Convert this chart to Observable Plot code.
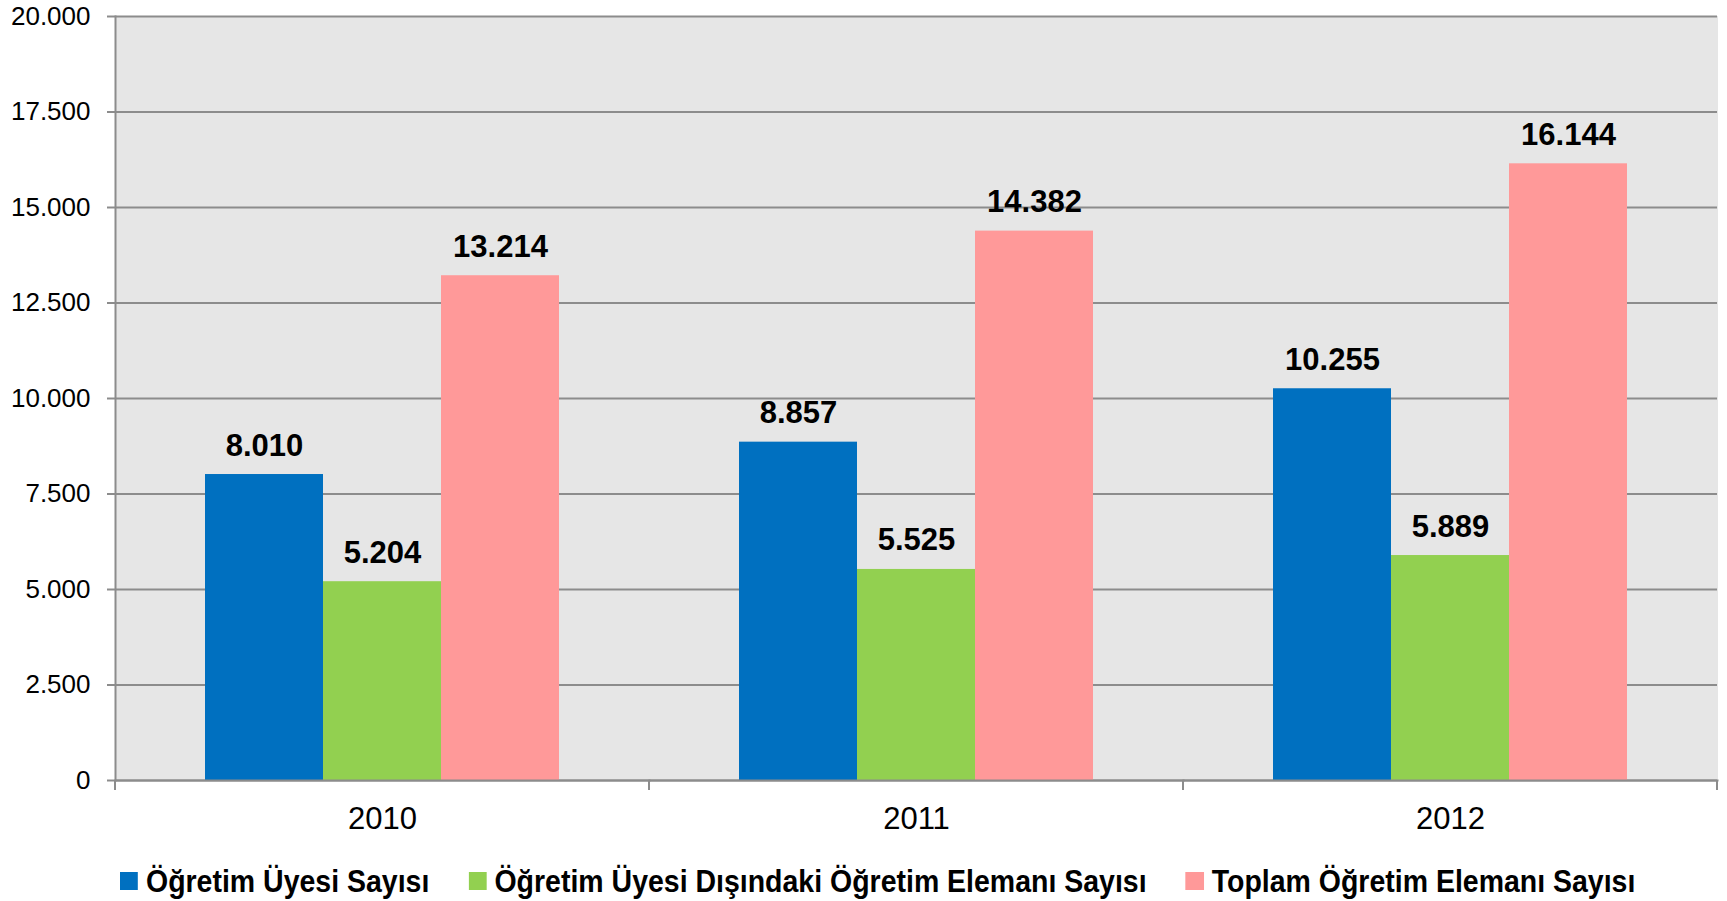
<!DOCTYPE html>
<html><head><meta charset="utf-8">
<script src="https://cdn.jsdelivr.net/npm/d3@7"></script>
<script src="https://cdn.jsdelivr.net/npm/@observablehq/plot@0.6"></script>
<style>
html,body{margin:0;padding:0;background:#fff;}
#wrap{position:relative;width:1727px;height:901px;overflow:hidden;}
#legend{position:absolute;left:120px;top:864px;display:flex;align-items:center;font-family:"Liberation Sans",Arial,sans-serif;font-weight:bold;font-size:32px;line-height:34px;color:#000;white-space:nowrap;transform:scaleX(0.89);transform-origin:0 50%;}
.item{display:flex;align-items:center;margin-right:44px}
.sw{width:20.2px;height:18px;margin-right:9px;flex:none}
</style></head><body><div id="wrap"><div id="chart"></div><div id="legend"></div></div>
<script>
const years = ["2010", "2011", "2012"];
const series = ["Öğretim Üyesi Sayısı", "Öğretim Üyesi Dışındaki Öğretim Elemanı Sayısı", "Toplam Öğretim Elemanı Sayısı"];
const ogretimUyesi = [8010, 8857, 10255];
const digerEleman = [5204, 5525, 5889];
const toplamEleman = [13214, 14382, 16144];
const colors = ["#0070C0", "#92D050", "#FF9999"];
const yTicks = [0, 2500, 5000, 7500, 10000, 12500, 15000, 17500, 20000];

const seriesValues = [ogretimUyesi, digerEleman, toplamEleman];
const data = [];
years.forEach((yr, i) => series.forEach((s, j) => data.push({year: yr, series: s, value: seriesValues[j][i]})));

const fmt = d3.formatLocale({decimal: ",", thousands: ".", grouping: [3], currency: ["", ""]}).format(",d");
const gridColor = "#8c8c8c";

const plot = Plot.plot({
  width: 1727, height: 845,
  marginLeft: 115, marginRight: 10, marginTop: 16, marginBottom: 65,
  style: {fontFamily: "'Liberation Sans', Arial, sans-serif", background: "transparent", color: "#000"},
  fx: {domain: years, padding: 0, label: null},
  x: {domain: series, paddingInner: 0, paddingOuter: 0.75, axis: null},
  y: {domain: [0, 20000], label: null},
  color: {domain: series, range: colors},
  marks: [
    Plot.frame({fill: "#e6e6e6", stroke: "#e6e6e6", strokeWidth: 1, shapeRendering: "crispEdges"}),
    Plot.ruleY(yTicks, {stroke: gridColor, strokeWidth: 2}),
    Plot.barY(data, {fx: "year", x: "series", y: "value", fill: "series"}),
    Plot.text(data, {fx: "year", x: "series", y: "value", text: d => fmt(d.value), dy: -19, lineAnchor: "bottom", fontSize: 31, fontWeight: "bold", fill: "#000"}),
    Plot.frame({anchor: "left", facetAnchor: "left", stroke: gridColor, strokeWidth: 2}),
    Plot.frame({anchor: "bottom", stroke: gridColor, strokeWidth: 2}),
    Plot.axisY({ticks: yTicks, tickFormat: fmt, tickSize: 8, tickPadding: 17, fontSize: 26, stroke: gridColor, strokeWidth: 2, fill: "#000", label: null}),
    Plot.axisFx({anchor: "bottom", tickSize: 0, tickPadding: 26, fontSize: 31, label: null, fill: "#000"})
  ]
});
document.getElementById("chart").appendChild(plot);

// boundary ticks on the category axis, placed from the library's own fx / y scales
const fxs = plot.scale("fx");
const ys = plot.scale("y");
const y0 = ys.apply(0);
const edges = new Set();
years.forEach(yr => { const a = fxs.apply(yr); edges.add(a); edges.add(a + fxs.bandwidth); });
const g = d3.select(plot).append("g").attr("stroke", gridColor).attr("stroke-width", 2);
[...edges].forEach(x => g.append("line").attr("x1", x).attr("x2", x).attr("y1", y0).attr("y2", y0 + 10));

const legend = d3.select("#legend");
series.forEach((s, i) => {
  const it = legend.append("div").attr("class", "item");
  it.append("div").attr("class", "sw").style("background", colors[i]);
  it.append("span").text(s);
});
</script></body></html>
